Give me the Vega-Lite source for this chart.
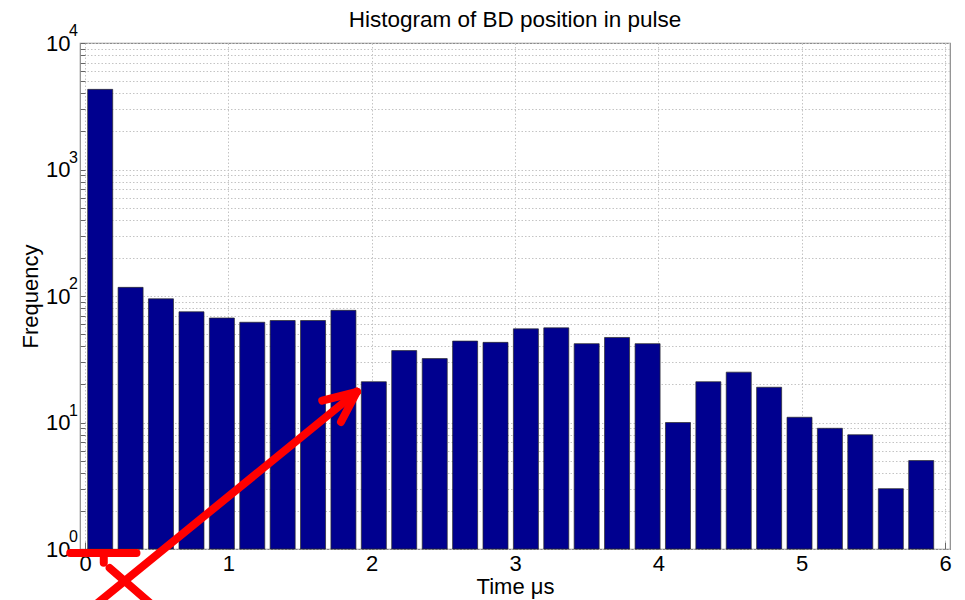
{
  "$schema": "https://vega.github.io/schema/vega-lite/v6.json",
  "width": 870,
  "height": 506,
  "autosize": {"type": "none"},
  "padding": {"left": 80, "top": 43, "right": 15, "bottom": 51},
  "background": "white",
  "config": {
    "font": "Liberation Sans",
    "view": {"stroke": "#8a8a8a", "strokeWidth": 1.2}
  },
  "title": {
    "text": "Histogram of BD position in pulse",
    "fontSize": 22.5,
    "fontWeight": "normal",
    "font": "Liberation Sans",
    "color": "#000000",
    "offset": -8
  },
  "datasets": {
    "bins": [
      {"t": 0.106, "count": 4300},
      {"t": 0.318, "count": 117},
      {"t": 0.530, "count": 95},
      {"t": 0.743, "count": 75},
      {"t": 0.955, "count": 67},
      {"t": 1.167, "count": 62},
      {"t": 1.379, "count": 64},
      {"t": 1.591, "count": 64},
      {"t": 1.803, "count": 77},
      {"t": 2.015, "count": 21},
      {"t": 2.227, "count": 37},
      {"t": 2.440, "count": 32},
      {"t": 2.652, "count": 44},
      {"t": 2.864, "count": 43},
      {"t": 3.076, "count": 55},
      {"t": 3.288, "count": 56},
      {"t": 3.500, "count": 42},
      {"t": 3.712, "count": 47},
      {"t": 3.925, "count": 42},
      {"t": 4.137, "count": 10},
      {"t": 4.349, "count": 21},
      {"t": 4.561, "count": 25},
      {"t": 4.773, "count": 19},
      {"t": 4.985, "count": 11},
      {"t": 5.197, "count": 9},
      {"t": 5.409, "count": 8},
      {"t": 5.622, "count": 3},
      {"t": 5.834, "count": 5}
    ],
    "decades": [
      {"value": 1, "exponent": "0"},
      {"value": 10, "exponent": "1"},
      {"value": 100, "exponent": "2"},
      {"value": 1000, "exponent": "3"},
      {"value": 10000, "exponent": "4"}
    ],
    "annotation": [
      {"part": "shaft", "x": 0.062, "y": 0.354, "x2": 1.897, "y2": 17.5},
      {"part": "head-left", "x": 1.655, "y": 14.9, "x2": 1.897, "y2": 17.5},
      {"part": "head-low", "x": 1.786, "y": 10.1, "x2": 1.897, "y2": 17.5},
      {"part": "cross", "x": 0.172, "y": 0.708, "x2": 0.462, "y2": 0.367},
      {"part": "underline", "x": -0.103, "y": 0.93, "x2": 0.359, "y2": 0.93},
      {"part": "drop", "x": 0.131, "y": 0.9, "x2": 0.131, "y2": 0.78}
    ]
  },
  "layer": [
    {
      "data": {"name": "bins"},
      "mark": {"type": "bar", "size": 25, "color": "#00008f", "stroke": "#2a2a2a", "strokeWidth": 0.7},
      "encoding": {
        "x": {
          "field": "t",
          "type": "quantitative",
          "title": "Time μs",
          "scale": {"domain": [0, 6], "nice": false, "zero": false},
          "axis": {
            "values": [0, 1, 2, 3, 4, 5, 6],
            "format": "d",
            "title": "Time μs",
            "titleFontSize": 22,
            "titleFontWeight": "normal",
            "titleColor": "#000000",
            "titlePadding": 2,
            "labelFontSize": 22,
            "labelColor": "#000000",
            "labelPadding": 11,
            "labelFlush": false,
            "labelOverlap": false,
            "domain": false,
            "ticks": true,
            "tickSize": -7,
            "tickColor": "#666666",
            "grid": true,
            "gridColor": "#c4c4c4",
            "gridDash": [1.5, 2],
            "gridWidth": 1
          }
        },
        "y": {
          "field": "count",
          "type": "quantitative",
          "title": "Frequency",
          "scale": {"type": "log", "domain": [1, 10000], "nice": false},
          "axis": {
            "values": [1, 2, 3, 4, 5, 6, 7, 8, 9, 10, 20, 30, 40, 50, 60, 70, 80, 90, 100, 200, 300, 400, 500, 600, 700, 800, 900, 1000, 2000, 3000, 4000, 5000, 6000, 7000, 8000, 9000, 10000],
            "labelExpr": "indexof([1, 10, 100, 1000, 10000], datum.value) >= 0 ? '10' : ''",
            "title": "Frequency",
            "titleFontSize": 22,
            "titleFontWeight": "normal",
            "titleColor": "#000000",
            "titlePadding": 3,
            "labelFontSize": 22,
            "labelColor": "#000000",
            "labelPadding": 15,
            "labelOverlap": false,
            "labelFlush": false,
            "domain": false,
            "ticks": true,
            "tickSize": -5,
            "tickColor": "#666666",
            "grid": true,
            "gridColor": "#c4c4c4",
            "gridDash": [1.5, 2],
            "gridWidth": 1
          }
        },
        "y2": {"datum": 1}
      }
    },
    {
      "data": {"name": "decades"},
      "mark": {"type": "text", "align": "left", "baseline": "middle", "dx": -16, "dy": -12, "fontSize": 16, "color": "#000000", "font": "Liberation Sans"},
      "encoding": {
        "x": {"datum": 0, "type": "quantitative", "title": "Time μs"},
        "y": {"field": "value", "type": "quantitative", "title": "Frequency"},
        "text": {"field": "exponent"}
      }
    },
    {
      "data": {"name": "annotation"},
      "mark": {"type": "rule", "color": "#ff0000", "strokeWidth": 8, "strokeCap": "round"},
      "encoding": {
        "x": {"field": "x", "type": "quantitative", "title": "Time μs"},
        "y": {"field": "y", "type": "quantitative", "title": "Frequency"},
        "x2": {"field": "x2"},
        "y2": {"field": "y2"}
      }
    }
  ]
}
